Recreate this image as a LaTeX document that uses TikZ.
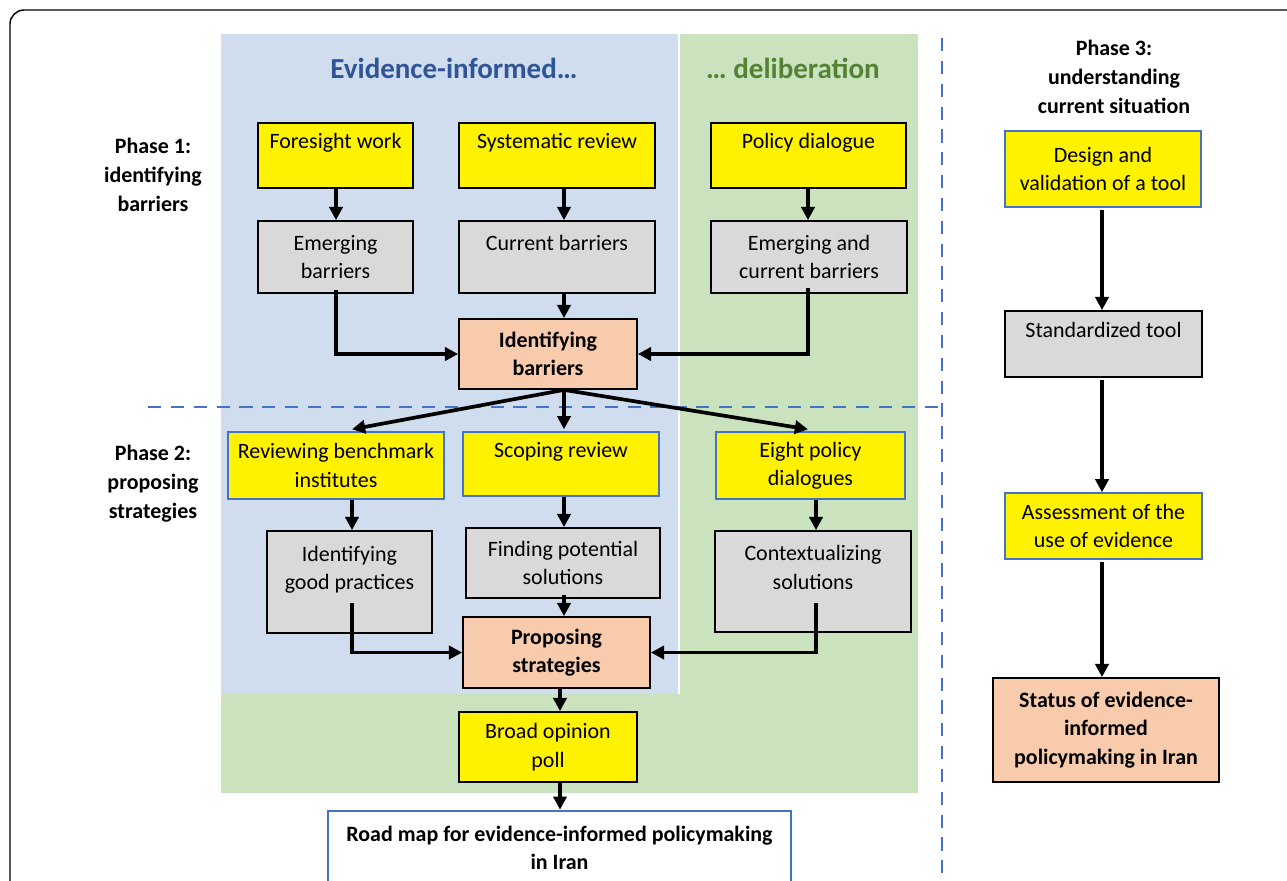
\documentclass[tikz,border=0pt]{standalone}
\usepackage{fontspec}
\setmainfont{Carlito}
\usetikzlibrary{arrows.meta,calc}
\definecolor{bgblue}{RGB}{207,221,238}
\definecolor{bggreen}{RGB}{202,226,189}
\definecolor{linblue}{RGB}{68,114,196}
\definecolor{ttlblue}{RGB}{47,85,151}
\definecolor{ttlgreen}{RGB}{84,130,53}
\definecolor{boxgray}{RGB}{217,217,217}
\definecolor{salmon}{RGB}{248,203,173}
\begin{document}
\begin{tikzpicture}[x=0.02cm,y=-0.02cm,
    sz/.style 2 args={minimum width=#1*0.02cm, minimum height=#2*0.02cm},
    box/.style={draw=black, line width=1pt, align=center, inner sep=0pt,
        font=\fontsize{12.5}{16.2}\selectfont},
    yel/.style={box, fill=yellow},
    yelb/.style={box, fill=yellow, draw=linblue, line width=0.8pt},
    gry/.style={box, fill=boxgray},
    sal/.style={box, fill=salmon, font=\fontsize{12.5}{16.2}\selectfont\bfseries},
    phase/.style={align=center, font=\fontsize{12.5}{16.5}\selectfont\bfseries},
    arr/.style={line width=2.1pt, -{Triangle[length=7.5pt,width=7.5pt]}},
    sep/.style={linblue, line width=1.6pt, dash pattern=on 7.5pt off 5.5pt}]
    \clip (0,0) rectangle (1287,880);
    \useasboundingbox (0,0) rectangle (1287,880);
    % frame and backgrounds
    \draw[line width=0.8pt, rounded corners=8pt] (10,900) -- (10,10) -- (1300,10);
    \fill[bgblue] (221,34) rectangle (679,694);
    \fill[bggreen] (679,34) rectangle (918,694);
    \fill[bggreen] (221,694) rectangle (918,793);
    \draw[white, line width=0.6pt] (679,34) -- (679,694);
    \draw[sep] (942,38) -- (942,880);
    \draw[sep] (148,407) -- (942,407);
    % titles
    \node[font=\fontsize{16.5}{19}\selectfont\bfseries, text=ttlblue] (tev) at (454,68) {Evidence-informed…};
    \node[font=\fontsize{16.5}{19}\selectfont\bfseries, text=ttlgreen] (tdel) at (793,68) {… deliberation};
    \node[phase] (ph1) at (153,175) {Phase 1:\\identifying\\barriers};
    \node[phase] (ph2) at (153,484) {Phase 2:\\proposing\\strategies};
    \node[phase] (ph3) at (1114,77) {Phase 3:\\understanding\\current situation};
    % phase 1
    \node[yel, sz={155}{65}] (fore) at (335.5,155.5) {Foresight work\\\mbox{}};
    \node[yel, sz={196}{65}] (sysrev) at (557,155.5) {Systematic review\\\mbox{}};
    \node[yel, sz={195}{65}] (poldia) at (808.5,155.5) {Policy dialogue\\\mbox{}};
    \node[gry, sz={155}{72}] (emerg) at (335.5,257) {Emerging\\barriers};
    \node[gry, sz={196}{72}] (curr) at (557,257) {Current barriers\\\mbox{}};
    \node[gry, sz={196}{72}] (emcur) at (809,257) {Emerging and\\current barriers};
    \node[sal, sz={178}{70}] (idbar) at (548,354) {Identifying\\barriers};
    % phase 2
    \node[yelb, sz={216}{67}] (revbench) at (336,465.5) {Reviewing benchmark\\institutes};
    \node[yelb, sz={196}{64}] (scoping) at (561,464) {Scoping review\\\mbox{}};
    \node[yelb, sz={189}{67}] (eight) at (810.5,465.5) {Eight policy\\dialogues};
    \node[gry, sz={165}{102}] (goodprac) at (349.5,582) {Identifying\\good practices\\\mbox{}};
    \node[gry, sz={194}{70}] (finding) at (563,563) {Finding potential\\solutions};
    \node[gry, sz={196}{101}] (context) at (813,581.5) {Contextualizing\\solutions\\\mbox{}};
    \node[sal, sz={187}{71}] (propose) at (556.5,652.5) {Proposing\\strategies};
    \node[yel, sz={178}{70}] (poll) at (548,747) {Broad opinion\\poll};
    \node[box, fill=white, draw=linblue, line width=1.5pt, sz={463}{74},
        font=\fontsize{12.5}{16.2}\selectfont\bfseries] (roadmap) at (559.5,848)
        {Road map for evidence-informed policymaking\\in Iran};
    % phase 3
    \node[yelb, sz={196}{76}] (design) at (1103,169) {Design and\\validation of a tool};
    \node[gry, sz={197}{66}] (stdtool) at (1103.5,344) {Standardized tool\\\mbox{}};
    \node[yelb, sz={197}{66}] (assess) at (1103.5,526) {Assessment of the\\use of evidence};
    \node[sal, sz={226}{104}] (status) at (1106,730) {Status of evidence-\\informed\\policymaking in Iran};
    % arrow columns
    \coordinate (xa) at (336,0);
    \coordinate (xb) at (564,0);
    \coordinate (xc) at (808,0);
    \coordinate (xd) at (352,0);
    \coordinate (xe) at (816,0);
    \coordinate (xf) at (560,0);
    \coordinate (xg) at (1102,0);
    \draw[arr] (fore.south -| xa) -- (emerg.north -| xa);
    \draw[arr] (sysrev.south -| xb) -- (curr.north -| xb);
    \draw[arr] (poldia.south -| xc) -- (emcur.north -| xc);
    \draw[arr] (curr.south -| xb) -- (idbar.north -| xb);
    \draw[arr] ($(emerg.south -| xa)+(0,-4)$) |- (idbar.west);
    \draw[arr] ($(emcur.south -| xc)+(0,-6)$) |- (idbar.east);
    \draw[arr] (idbar.south -| xb) -- ($(revbench.north -| xd)+(0,-2)$);
    \draw[arr] (idbar.south -| xb) -- ($(scoping.north -| xb)+(0,-2)$);
    \draw[arr] (idbar.south -| xb) -- ($(eight.north -| xc)+(0,-2)$);
    \draw[arr] (revbench.south -| xd) -- (goodprac.north -| xd);
    \draw[arr] (scoping.south -| xb) -- (finding.north -| xb);
    \draw[arr] (eight.south -| xe) -- (context.north -| xe);
    \draw[arr] ($(finding.south -| xb)+(0,-4)$) -- (propose.north -| xb);
    \draw[arr] ($(goodprac.south -| xd)+(0,-31)$) |- (propose.west);
    \draw[arr] ($(context.south -| xe)+(0,-30)$) |- (propose.east);
    \draw[arr] (propose.south -| xf) -- (poll.north -| xf);
    \draw[arr] (poll.south -| xf) -- (roadmap.north -| xf);
    \draw[arr] ($(design.south -| xg)+(0,2)$) -- (stdtool.north -| xg);
    \draw[arr] ($(stdtool.south -| xg)+(0,2)$) -- (assess.north -| xg);
    \draw[arr] ($(assess.south -| xg)+(0,2)$) -- (status.north -| xg);
\end{tikzpicture}
\end{document}
